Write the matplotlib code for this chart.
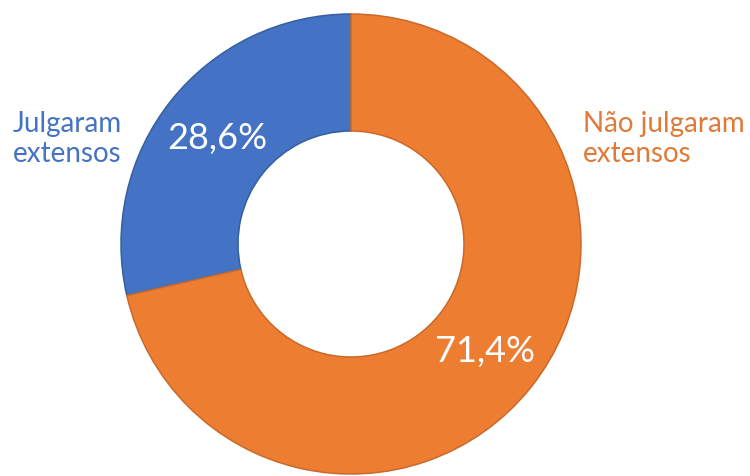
import matplotlib
matplotlib.use("Agg")
import matplotlib.pyplot as plt

# Share of respondents
categories = ["Julgaram\nextensos", "Não julgaram\nextensos"]
shares = [28.6, 71.4]
fill_colors = ["#4472C4", "#ED7D31"]
edge_colors = ["#34609F", "#C96A2A"]
text_colors = ["#4472C4", "#E07A36"]

W, H = 750, 477
fig = plt.figure(figsize=(W / 100, H / 100), dpi=100)
ax = fig.add_axes([0, 0, 1, 1])

cx, cy = 351, H - 245
r_outer, r_inner = 230, 113

wedges, _, autotexts = ax.pie(
    shares,
    colors=fill_colors,
    startangle=90,
    counterclock=True,
    center=(cx, cy),
    radius=r_outer,
    autopct=lambda p: f"{p:.1f}%".replace(".", ","),
    pctdistance=(r_outer + r_inner) / 2 / r_outer,
    wedgeprops=dict(width=r_outer - r_inner, linewidth=1.1),
    textprops=dict(color="white", fontsize=26, family="Lato"),
    frame=True,
)
for w, ec in zip(wedges, edge_colors):
    w.set_edgecolor(ec)
ax.set_xlim(0, W)
ax.set_ylim(0, H)
ax.set_aspect("equal")
ax.axis("off")

# Category labels beside the ring
label_pos = [(13, H - 139), (583, H - 139)]
for (x, y), txt, col in zip(label_pos, categories, text_colors):
    ax.text(x, y, txt, ha="left", va="center", color=col,
            fontsize=20, family="Lato", linespacing=1.15)

fig.savefig("out.png", dpi=100)
